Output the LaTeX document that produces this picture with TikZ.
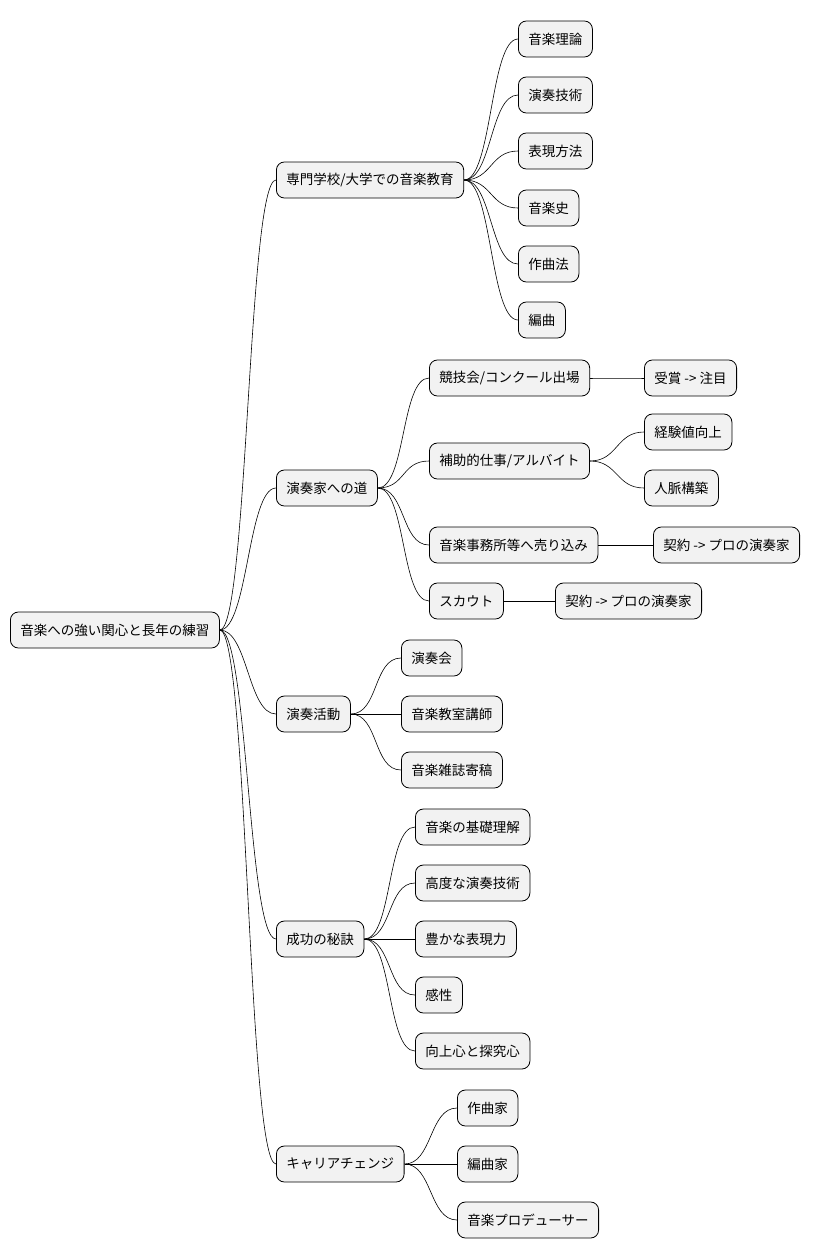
\documentclass[tikz,border=0pt]{standalone}
\usepackage{fontspec}
\setmainfont{Noto Sans CJK JP}
\begin{document}
\begin{tikzpicture}[x=1pt,y=-1pt,
  box/.style={draw=black,line width=0.8pt,fill=black!5,rounded corners=8pt,minimum height=36pt,inner xsep=10pt,anchor=west,font=\fontsize{13.5}{14}\selectfont},
  lk/.style={draw=black,line width=0.6pt}]
\useasboundingbox (0,0) rectangle (822,1259);
\newcommand{\lnk}[2]{\draw[lk] (#1.east) .. controls +(28,0) and +(-28,0) .. (#2.west);}
\node[box] (r) at (10,630) {音楽への強い関心と長年の練習};
\node[box] (a) at (276,180) {専門学校/大学での音楽教育};
\node[box] (b) at (276,488) {演奏家への道};
\node[box] (c) at (276,714) {演奏活動};
\node[box] (d) at (276,939) {成功の秘訣};
\node[box] (e) at (276,1164) {キャリアチェンジ};
\foreach \n in {a,b,c,d,e}{\lnk{r}{\n}}
\node[box] (a1) at (518,39) {音楽理論};
\node[box] (a2) at (518,95) {演奏技術};
\node[box] (a3) at (518,151) {表現方法};
\node[box] (a4) at (518,208) {音楽史};
\node[box] (a5) at (518,264) {作曲法};
\node[box] (a6) at (518,320) {編曲};
\foreach \n in {a1,a2,a3,a4,a5,a6}{\lnk{a}{\n}}
\node[box] (b1) at (429,378) {競技会/コンクール出場};
\node[box] (b2) at (429,461) {補助的仕事/アルバイト};
\node[box] (b3) at (429,545) {音楽事務所等へ売り込み};
\node[box] (b4) at (429,601) {スカウト};
\foreach \n in {b1,b2,b3,b4}{\lnk{b}{\n}}
\node[box] (b11) at (644,378) {受賞 -> 注目};
\node[box] (b21) at (644,432) {経験値向上};
\node[box] (b22) at (644,488) {人脈構築};
\node[box] (b31) at (653,545) {契約 -> プロの演奏家};
\node[box] (b41) at (555,601) {契約 -> プロの演奏家};
\lnk{b1}{b11}\lnk{b2}{b21}\lnk{b2}{b22}\lnk{b3}{b31}\lnk{b4}{b41}
\node[box] (c1) at (401,658) {演奏会};
\node[box] (c2) at (401,714) {音楽教室講師};
\node[box] (c3) at (401,770) {音楽雑誌寄稿};
\foreach \n in {c1,c2,c3}{\lnk{c}{\n}}
\node[box] (d1) at (415,827) {音楽の基礎理解};
\node[box] (d2) at (415,883) {高度な演奏技術};
\node[box] (d3) at (415,939) {豊かな表現力};
\node[box] (d4) at (415,995) {感性};
\node[box] (d5) at (415,1051) {向上心と探究心};
\foreach \n in {d1,d2,d3,d4,d5}{\lnk{d}{\n}}
\node[box] (e1) at (457,1108) {作曲家};
\node[box] (e2) at (457,1164) {編曲家};
\node[box] (e3) at (457,1220) {音楽プロデューサー};
\foreach \n in {e1,e2,e3}{\lnk{e}{\n}}
\end{tikzpicture}
\end{document}
